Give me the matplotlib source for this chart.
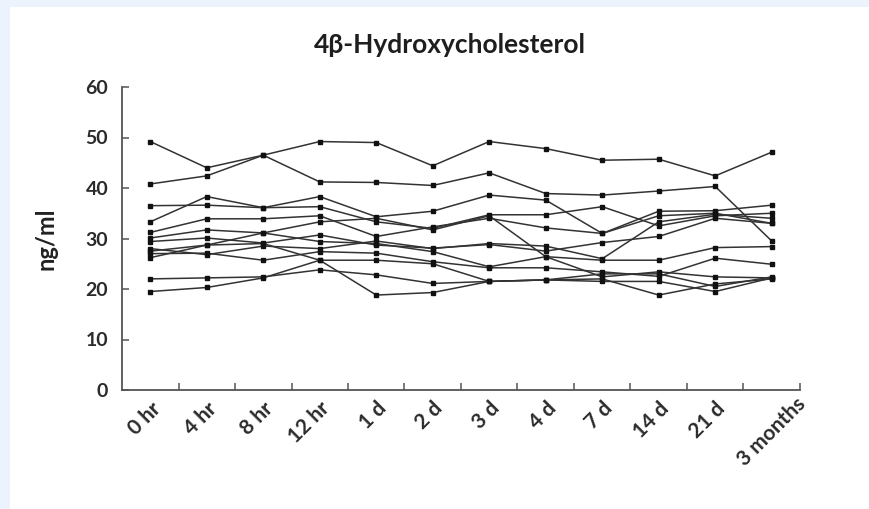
import matplotlib
matplotlib.use("Agg")
import matplotlib.pyplot as plt
from matplotlib.patches import Rectangle
from matplotlib.transforms import ScaledTranslation

# time points
labels = ["0 hr", "4 hr", "8 hr", "12 hr", "1 d", "2 d", "3 d", "4 d", "7 d", "14 d", "21 d", "3 months"]

# one list per subject, ng/ml
s1 = [49.2, 44.0, 46.5, 49.2, 49.0, 44.4, 49.2, 47.8, 45.5, 45.7, 42.4, 47.1]
s2 = [40.8, 42.4, 46.5, 41.2, 41.1, 40.5, 43.0, 38.9, 38.6, 39.4, 40.3, 29.5]
s3 = [36.5, 36.6, 36.1, 38.3, 34.3, 35.4, 38.6, 37.6, 31.0, 35.4, 35.5, 36.6]
s4 = [33.3, 38.3, 36.1, 36.3, 33.3, 32.0, 34.7, 34.7, 36.3, 32.5, 34.5, 35.0]
s5 = [31.2, 33.9, 33.9, 34.5, 30.4, 32.3, 34.0, 32.1, 31.0, 34.5, 35.0, 33.0]
s6 = [30.1, 31.7, 31.1, 33.3, 34.0, 31.7, 34.5, 26.4, 22.4, 23.4, 22.4, 22.2]
s7 = [29.4, 30.1, 29.1, 30.7, 28.7, 28.1, 28.8, 27.5, 29.2, 30.4, 34.0, 33.0]
s8 = [27.5, 28.7, 31.1, 29.4, 29.0, 27.4, 24.4, 26.4, 25.7, 25.7, 28.2, 28.4]
s9 = [27.0, 27.1, 25.7, 27.4, 27.1, 25.4, 24.2, 24.2, 23.4, 22.5, 26.1, 24.9]
s10 = [26.2, 28.7, 29.0, 25.7, 25.7, 25.0, 21.5, 21.8, 21.5, 21.5, 19.5, 22.2]
s11 = [22.0, 22.2, 22.4, 23.8, 22.8, 21.1, 21.5, 21.8, 22.0, 18.8, 21.0, 22.0]
s12 = [19.5, 20.3, 22.2, 25.7, 18.8, 19.3, 21.5, 21.8, 23.0, 23.0, 20.5, 22.4]
s13 = [28.0, 26.8, 28.5, 28.0, 29.5, 28.0, 29.0, 28.5, 26.0, 33.3, 34.8, 34.0]
subjects = [s1, s2, s3, s4, s5, s6, s7, s8, s9, s10, s11, s12, s13]

fig = plt.figure(figsize=(8.7, 5.09), dpi=100)
fig.patch.set_facecolor("#edf3fc")
# white page area behind everything
page = Rectangle((10 / 870, 0), 1, 1 - 7 / 509, transform=fig.transFigure,
                 facecolor="white", edgecolor="none", zorder=-10)
fig.patches.append(page)

ax = fig.add_axes([122 / 870, 1 - 390 / 509, 678 / 870, 303 / 509])
ax.set_facecolor("none")
ax.set_zorder(5)

x = list(range(len(labels)))
for s in subjects:
    ax.plot(x, s, color="#333333", lw=1.1, marker="s", ms=3.4, mfc="#111", mec="#111")

ax.set_xlim(-0.5, len(labels) - 0.5)
ax.set_ylim(0, 60)
ax.set_yticks(range(0, 61, 10))
for sp in ["top", "right"]:
    ax.spines[sp].set_visible(False)
for sp in ["left", "bottom"]:
    ax.spines[sp].set_color("#555555")
    ax.spines[sp].set_linewidth(1.3)

ax.set_xticks(x)
ax.set_xticks([i + 0.5 for i in x], minor=True)
ax.tick_params(axis="x", which="major", length=0, pad=6)
ax.tick_params(axis="x", which="minor", direction="in", length=5, color="#555555", width=1.1)
ax.tick_params(axis="y", direction="in", length=5, color="#555555", width=1.1, pad=10)

ax.set_xticklabels(labels, rotation=45, ha="right", va="top", rotation_mode="anchor",
                   fontfamily="Lato", fontweight="bold", fontsize=15, color="#2b2b2b")
# the last label sits a bit to the right in the original
last = ax.get_xticklabels()[-1]
last.set_transform(last.get_transform() + ScaledTranslation(24 / 100, 4 / 100, fig.dpi_scale_trans))

for t in ax.get_yticklabels():
    t.set_fontfamily("Lato")
    t.set_fontweight("bold")
    t.set_fontsize(14)
    t.set_color("#2b2b2b")

ax.set_ylabel("ng/ml", fontfamily="Lato", fontweight="bold", fontsize=17, color="#222222", labelpad=20)
fig.text(450 / 870, 1 - 45 / 509, "4β-Hydroxycholesterol", ha="center", va="center",
         fontfamily="Lato", fontweight="bold", fontsize=19, color="#1e1e1e")

fig.savefig("out.png", dpi=100, facecolor=fig.get_facecolor())
